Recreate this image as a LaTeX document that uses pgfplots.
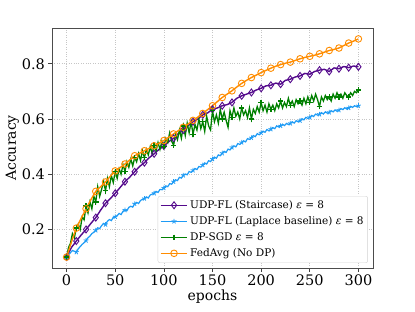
\documentclass[border=0pt]{standalone}
\usepackage{pgfplots}
\pgfplotsset{compat=1.18}
\usepackage{fontspec}
\setmainfont{DejaVu Serif}
\definecolor{cpurple}{RGB}{84,10,140}
\definecolor{cblue}{RGB}{30,155,245}
\definecolor{cgreen}{RGB}{0,128,0}
\definecolor{corange}{RGB}{255,140,0}
\begin{document}
\begin{tikzpicture}
\begin{axis}[
  scale only axis,
  width=321pt, height=240pt,
  xmin=-15, xmax=315, ymin=0.0605, ymax=0.9295,
  xtick={0,50,100,150,200,250,300},
  ytick={0.2,0.4,0.6,0.8},
  /pgf/number format/assume math mode=true,
  yticklabel style={/pgf/number format/fixed,/pgf/number format/precision=1,/pgf/number format/fixed zerofill},
  ticklabel style={font=\fontsize{14.5}{15}\selectfont},
  tick align=outside, tick pos=left,
  major tick length=3.5pt,
  every tick/.style={black!75, line width=0.6pt},
  axis line style={black!70, line width=0.8pt},
  grid=major,
  major grid style={dotted, gray!45, line width=0.6pt},
  xlabel={epochs}, ylabel={Accuracy},
  label style={font=\fontsize{14}{15}\selectfont},
  xlabel style={yshift=3pt},
  ylabel style={yshift=-4pt},
  legend cell align=left,
  legend style={at={(0.984,0.021)}, anchor=south east, font=\fontsize{10.5}{12}\selectfont,
    draw=gray!35, rounded corners=2pt, fill=white, row sep=2.6pt,
    inner xsep=2pt, inner ysep=2.5pt},
  legend image code/.code={\draw[line width=1.5pt, sharp corners] (0cm,0.2pt) -- (0.94cm,0.2pt); \draw[sharp corners] plot[only marks] coordinates {(0.47cm,0.2pt)};},
]
% UDP-FL Staircase
\addplot[cpurple, line width=1.4pt, mark=diamond, mark size=3.5pt, mark repeat=2, mark options={solid, fill=none, line width=0.9pt}] coordinates {
(0,.100) (5,.135) (10,.158) (15,.180) (20,.200) (25,.222) (30,.243) (35,.270) (40,.295) (45,.312)
(50,.331) (55,.352) (60,.373) (65,.390) (70,.409) (75,.428) (80,.442) (85,.460) (90,.474) (95,.490)
(100,.502) (105,.518) (110,.530) (115,.548) (120,.560) (125,.576) (130,.590) (135,.600) (140,.615) (145,.622)
(150,.635) (155,.640) (160,.648) (165,.652) (170,.660) (175,.675) (180,.684) (185,.690) (190,.696) (195,.705)
(200,.711) (205,.720) (210,.722) (215,.730) (220,.726) (225,.740) (230,.744) (235,.752) (240,.756) (245,.765)
(250,.762) (255,.772) (260,.777) (265,.780) (270,.772) (275,.785) (280,.782) (285,.790) (290,.786) (295,.792)
(300,.789)};
\addlegendentry{UDP-FL (Staircase) \textit{ε} = 8}
% UDP-FL Laplace
\addplot[cblue, line width=1.2pt, mark=star, mark size=2.5pt, mark repeat=5, mark options={solid, line width=0.8pt}] coordinates {
(0,0.100) (2,0.108) (4,0.116) (6,0.124) (8,0.121) (10,0.118) (12,0.130) (14,0.138) (16,0.146) (18,0.152)
(20,0.160) (22,0.170) (24,0.176) (26,0.185) (28,0.190) (30,0.197) (32,0.206) (34,0.203) (36,0.214) (38,0.222)
(40,0.218) (42,0.230) (44,0.236) (46,0.232) (48,0.244) (50,0.246) (52,0.250) (54,0.258) (56,0.254) (58,0.266)
(60,0.270) (62,0.268) (64,0.280) (66,0.284) (68,0.281) (70,0.293) (72,0.298) (74,0.294) (76,0.305) (78,0.309)
(80,0.312) (82,0.318) (84,0.314) (86,0.325) (88,0.328) (90,0.331) (92,0.338) (94,0.334) (96,0.345) (98,0.344)
(100,0.350) (102,0.358) (104,0.355) (106,0.366) (108,0.364) (110,0.373) (112,0.380) (114,0.377) (116,0.389) (118,0.386)
(120,0.396) (122,0.401) (124,0.398) (126,0.410) (128,0.407) (130,0.414) (132,0.421) (134,0.417) (136,0.428) (138,0.426)
(140,0.433) (142,0.441) (144,0.437) (146,0.449) (148,0.446) (150,0.455) (152,0.462) (154,0.458) (156,0.470) (158,0.467)
(160,0.476) (162,0.483) (164,0.479) (166,0.491) (168,0.488) (170,0.497) (172,0.503) (174,0.499) (176,0.511) (178,0.508)
(180,0.515) (182,0.521) (184,0.517) (186,0.529) (188,0.526) (190,0.532) (192,0.540) (194,0.536) (196,0.547) (198,0.543)
(200,0.550) (202,0.556) (204,0.552) (206,0.562) (208,0.557) (210,0.563) (212,0.569) (214,0.565) (216,0.575) (218,0.571)
(220,0.575) (222,0.581) (224,0.576) (226,0.584) (228,0.580) (230,0.584) (232,0.590) (234,0.585) (236,0.594) (238,0.590)
(240,0.594) (242,0.601) (244,0.597) (246,0.606) (248,0.602) (250,0.606) (252,0.613) (254,0.609) (256,0.618) (258,0.614)
(260,0.617) (262,0.623) (264,0.618) (266,0.626) (268,0.621) (270,0.624) (272,0.630) (274,0.626) (276,0.633) (278,0.628)
(280,0.632) (282,0.638) (284,0.634) (286,0.641) (288,0.636) (290,0.640) (292,0.646) (294,0.642) (296,0.648) (298,0.645)
(300,0.648)};
\addlegendentry{UDP-FL (Laplace baseline) \textit{ε} = 8}
% DP-SGD
\addplot[cgreen, line width=1.3pt, mark=+, mark size=2.8pt, mark repeat=5, mark options={solid, line width=1.3pt}] coordinates {
(0,0.100) (2,0.135) (4,0.150) (6,0.185) (8,0.170) (10,0.205) (12,0.220) (14,0.200) (16,0.245) (18,0.235)
(20,0.285) (22,0.260) (24,0.300) (26,0.275) (28,0.320) (30,0.300) (32,0.355) (34,0.320) (36,0.345) (38,0.375)
(40,0.340) (42,0.385) (44,0.355) (46,0.395) (48,0.370) (50,0.410) (52,0.385) (54,0.420) (56,0.400) (58,0.435)
(60,0.410) (62,0.445) (64,0.425) (66,0.455) (68,0.430) (70,0.460) (72,0.445) (74,0.475) (76,0.450) (78,0.485)
(80,0.460) (82,0.490) (84,0.470) (86,0.500) (88,0.475) (90,0.505) (92,0.485) (94,0.515) (96,0.490) (98,0.520)
(100,0.500) (102,0.530) (104,0.515) (106,0.550) (108,0.520) (110,0.505) (112,0.545) (114,0.525) (116,0.560) (118,0.530)
(120,0.575) (122,0.540) (124,0.585) (126,0.550) (128,0.590) (130,0.545) (132,0.580) (134,0.560) (136,0.600) (138,0.565)
(140,0.590) (142,0.555) (144,0.610) (146,0.575) (148,0.560) (150,0.630) (152,0.590) (154,0.615) (156,0.585) (158,0.635)
(160,0.600) (162,0.625) (164,0.595) (166,0.570) (168,0.630) (170,0.605) (172,0.640) (174,0.610) (176,0.625) (178,0.600)
(180,0.640) (182,0.615) (184,0.630) (186,0.605) (188,0.640) (190,0.600) (192,0.635) (194,0.620) (196,0.645) (198,0.625)
(200,0.660) (202,0.630) (204,0.650) (206,0.625) (208,0.655) (210,0.635) (212,0.650) (214,0.630) (216,0.655) (218,0.640)
(220,0.665) (222,0.640) (224,0.660) (226,0.645) (228,0.675) (230,0.650) (232,0.665) (234,0.645) (236,0.670) (238,0.655)
(240,0.665) (242,0.650) (244,0.675) (246,0.655) (248,0.680) (250,0.660) (252,0.685) (254,0.665) (256,0.690) (258,0.670)
(260,0.645) (262,0.680) (264,0.665) (266,0.685) (268,0.670) (270,0.680) (272,0.665) (274,0.690) (276,0.675) (278,0.695)
(280,0.680) (282,0.690) (284,0.675) (286,0.695) (288,0.685) (290,0.680) (292,0.695) (294,0.685) (296,0.700) (298,0.695)
(300,0.705)};
\addlegendentry{DP-SGD \textit{ε} = 8}
% FedAvg
\addplot[corange, line width=1.4pt, mark=o, mark size=3.3pt, mark repeat=2, mark options={solid, fill=none, line width=0.9pt}] coordinates {
(0,.100) (5,.155) (10,.205) (15,.240) (20,.275) (25,.308) (30,.338) (35,.355) (40,.372) (45,.393)
(50,.412) (55,.424) (60,.437) (65,.452) (70,.467) (75,.476) (80,.485) (85,.494) (90,.503) (95,.512)
(100,.522) (105,.534) (110,.546) (115,.558) (120,.570) (125,.582) (130,.595) (135,.607) (140,.620) (145,.634)
(150,.648) (155,.663) (160,.678) (165,.690) (170,.702) (175,.716) (180,.729) (185,.740) (190,.750) (195,.759)
(200,.768) (205,.776) (210,.784) (215,.791) (220,.797) (225,.802) (230,.806) (235,.812) (240,.818) (245,.823)
(250,.827) (255,.831) (260,.836) (265,.842) (270,.848) (275,.852) (280,.857) (285,.866) (290,.875) (295,.882)
(300,.890)};
\addlegendentry{FedAvg (No DP)}
\end{axis}
\path (current axis.south west) +(-52pt,-43pt) (current axis.north east) +(42pt,28pt);
\end{tikzpicture}
\end{document}
